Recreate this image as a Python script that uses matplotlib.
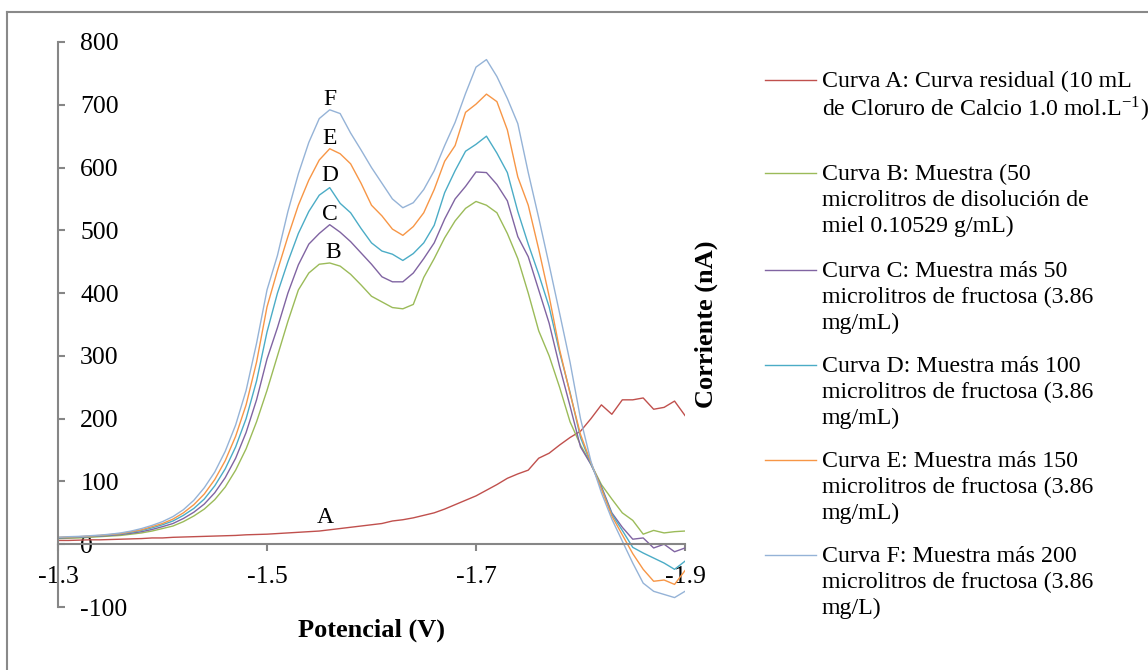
import matplotlib.pyplot as plt
import numpy as np
from matplotlib.lines import Line2D

plt.rcParams['font.family'] = 'Liberation Serif'
plt.rcParams['mathtext.fontset'] = 'stix'
plt.rcParams['axes.unicode_minus'] = False

# potential grid (V), 0.01 V steps from -1.30 to -1.90
potencial = np.linspace(-1.30, -1.90, 61)

# current (nA), one value per 0.01 V
curva_a = [6, 6, 6.5, 7, 7, 7.5, 8, 8.5, 9, 10,
           10, 11, 11.5, 12, 12.5, 13, 13.5, 14, 15, 15.5,
           16, 17, 18, 19, 20, 21, 23, 25, 27, 29,
           31, 33, 37, 39, 42, 46, 50, 56, 63, 70,
           77, 86, 95, 105, 112, 118, 137, 145, 158, 170,
           180, 200, 222, 207, 230, 230, 233, 215, 218, 228,
           205]
curva_b = [9, 9.5, 10, 11, 12, 13, 14, 16, 18, 21,
           25, 29, 36, 45, 56, 71, 91, 118, 152, 195,
           245, 300, 355, 405, 432, 446, 448, 443, 430, 413,
           395, 386, 377, 375, 382, 425, 455, 488, 515, 535,
           546, 540, 528, 495, 455, 400, 340, 300, 250, 195,
           158, 128, 95, 72, 50, 38, 16, 22, 18, 20,
           21]
curva_c = [10, 10.5, 11, 12, 13, 14, 15.5, 17.5, 20, 23.5,
           28, 33, 41, 51, 64, 82, 106, 137, 178, 230,
           295, 345, 400, 445, 478, 495, 509, 497, 482, 464,
           446, 426, 418, 418, 432, 455, 480, 518, 550, 570,
           593, 592, 573, 547, 490, 458, 405, 352, 283, 220,
           155, 127, 92, 50, 27, 8, 10, -6, 0, -12,
           -6]
curva_d = [10.5, 11, 11.5, 12.5, 13.5, 15, 16.5, 19, 22, 26,
           31, 37, 46, 57, 72, 93, 120, 155, 200, 260,
           338, 400, 450, 495, 530, 556, 568, 543, 528, 503,
           480, 467, 462, 452, 463, 480, 508, 560, 595, 626,
           637, 650, 623, 592, 530, 478, 430, 378, 306, 242,
           170, 128, 90, 48, 22, -5, -14, -22, -30, -40,
           -27]
curva_e = [11, 11.5, 12, 13, 14, 15.5, 17, 20, 23, 28,
           33, 40, 50, 63, 80, 103, 133, 172, 222, 290,
           378, 436, 490, 540, 580, 612, 630, 622, 606, 575,
           540, 523, 502, 492, 506, 528, 565, 610, 635, 688,
           701, 717, 705, 660, 585, 540, 470, 395, 310, 240,
           175, 130, 88, 45, 15, -15, -40, -59, -57, -64,
           -42]
curva_f = [11, 12, 12.5, 13.5, 14.5, 16, 18, 21, 25, 30,
           36, 44, 55, 70, 90, 115, 148, 190, 245, 320,
           405, 460, 530, 590, 640, 678, 692, 686, 655, 628,
           600, 575, 550, 536, 544, 565, 595, 635, 672, 718,
           760, 772, 745, 710, 670, 592, 520, 445, 368, 290,
           200, 132, 82, 40, 5, -30, -62, -75, -80, -85,
           -75]

curvas = [curva_a, curva_b, curva_c, curva_d, curva_e, curva_f]
colores = ['#C0504D', '#9BBB59', '#8064A2', '#4BACC6', '#F79646', '#95B3D7']
leyendas = [
    'Curva A: Curva residual (10 mL\nde Cloruro de Calcio 1.0 mol.L$^{\\mathregular{-1}}$)',
    'Curva B: Muestra (50\nmicrolitros de disolución de\nmiel 0.10529 g/mL)',
    'Curva C: Muestra más 50\nmicrolitros de fructosa (3.86\nmg/mL)',
    'Curva D: Muestra más 100\nmicrolitros de fructosa (3.86\nmg/mL)',
    'Curva E: Muestra más 150\nmicrolitros de fructosa (3.86\nmg/mL)',
    'Curva F: Muestra más 200\nmicrolitros de fructosa (3.86\nmg/L)',
]

# letter tags next to the curves
etiquetas = ['A', 'B', 'C', 'D', 'E', 'F']
etiqueta_x = [-1.556, -1.563, -1.560, -1.560, -1.560, -1.560]
etiqueta_y = [42, 465, 525, 587, 647, 709]

x_ticks = [-1.3, -1.5, -1.7, -1.9]
y_ticks = [-100, 0, 100, 200, 300, 400, 500, 600, 700, 800]

W, H = 1148, 670
fig = plt.figure(figsize=(W / 100, H / 100), dpi=100)
ax = fig.add_axes([58 / W, 1 - 607 / H, 627 / W, 565 / H])

for y, c in zip(curvas, colores):
    ax.plot(potencial, y, color=c, linewidth=1.0)

for t, x, y in zip(etiquetas, etiqueta_x, etiqueta_y):
    ax.text(x, y, t, fontsize=17, ha='center', va='center')

ax.set_xlim(-1.3, -1.9)
ax.set_ylim(-100, 800)
ax.set_xticks(x_ticks)
ax.set_xticklabels([str(v) for v in x_ticks])
ax.set_yticks(y_ticks)

gris = '#868686'
for s in ['top', 'right']:
    ax.spines[s].set_visible(False)
ax.spines['left'].set_position(('data', -1.3))
ax.spines['bottom'].set_position(('data', 0))
ax.spines['left'].set_color(gris)
ax.spines['bottom'].set_color(gris)
ax.spines['left'].set_linewidth(1.5)
ax.spines['bottom'].set_linewidth(1.5)
ax.patch.set_visible(False)

ax.tick_params(axis='x', direction='out', length=5, width=1.5, color=gris,
               labelsize=18.5, pad=11)
ax.tick_params(axis='y', direction='in', length=5, width=1.5, color=gris,
               labelsize=18.5, pad=-16)
for lab in ax.get_yticklabels():
    lab.set_horizontalalignment('left')

fig.text(371 / W, 1 - 630 / H, 'Potencial (V)', fontsize=19, fontweight='bold',
         ha='center', va='center')
fig.text(706 / W, 1 - 324 / H, 'Corriente (nA)', fontsize=19, fontweight='bold',
         ha='center', va='center', rotation=90)

# legend drawn by hand so the handle sits on the first text line
handle_y = [80, 173, 270, 365, 460, 555]
for i, (hy, c, txt) in enumerate(zip(handle_y, colores, leyendas)):
    fig.add_artist(Line2D([765 / W, 816 / W], [1 - hy / H, 1 - hy / H],
                          color=c, linewidth=1.0))
    fig.text(822 / W, 1 - (hy - 9) / H, txt, fontsize=17.2, ha='left',
             va='top', linespacing=1.1 if i == 0 else 1.3)

# outer chart frame (only left and top edges are visible)
fig.add_artist(Line2D([7 / W, 7 / W], [0, 1 - 12 / H], color='#898989', linewidth=1.5))
fig.add_artist(Line2D([7 / W, 1], [1 - 12 / H, 1 - 12 / H], color='#898989', linewidth=1.5))

fig.savefig('out.png', dpi=100)
